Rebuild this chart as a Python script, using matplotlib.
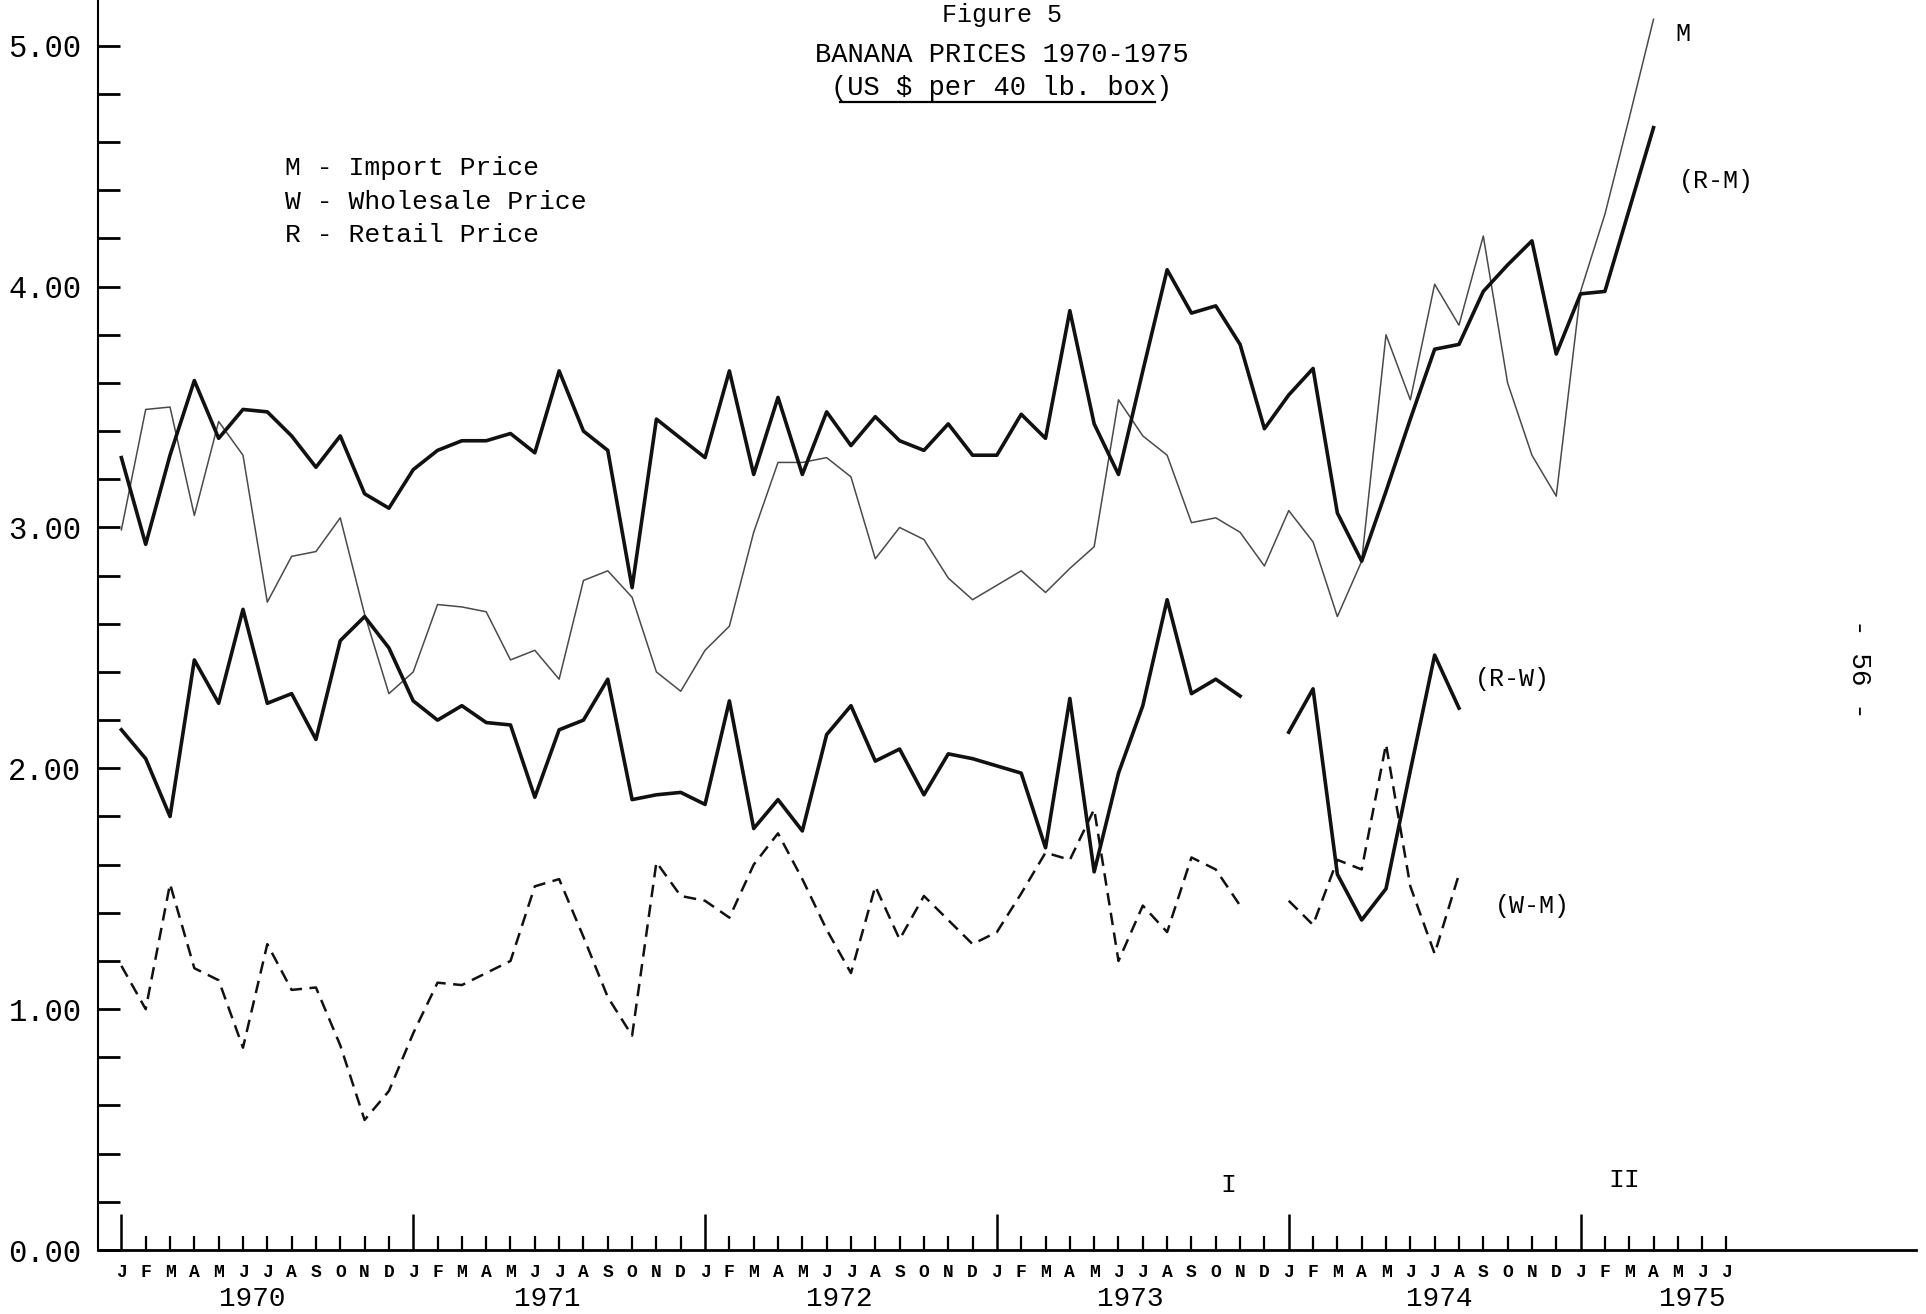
import numpy as np
import matplotlib.pyplot as plt

plt.rcParams["font.family"] = ["Liberation Mono", "DejaVu Sans Mono"]

# month index 0 = Jan 1970, one value per month
month_letters = ["J", "F", "M", "A", "M", "J", "J", "A", "S", "O", "N", "D"]
years = ["1970", "1971", "1972", "1973", "1974", "1975"]

# M - import price (thin line)
import_price = [
    2.99, 3.49, 3.50, 3.05, 3.44, 3.30, 2.69, 2.88, 2.90, 3.04, 2.64, 2.31,
    2.40, 2.68, 2.67, 2.65, 2.45, 2.49, 2.37, 2.78, 2.82, 2.71, 2.40, 2.32,
    2.49, 2.59, 2.98, 3.27, 3.27, 3.29, 3.21, 2.87, 3.00, 2.95, 2.79, 2.70,
    2.76, 2.82, 2.73, 2.83, 2.92, 3.53, 3.38, 3.30, 3.02, 3.04, 2.98, 2.84,
    3.07, 2.94, 2.63, 2.86, 3.80, 3.53, 4.01, 3.84, 4.21, 3.60, 3.30, 3.13,
    3.98, 4.30, 4.70, 5.11,
]

# (R-M) retail less import price (thick line)
retail_minus_import = [
    3.29, 2.93, 3.30, 3.61, 3.37, 3.49, 3.48, 3.38, 3.25, 3.38, 3.14, 3.08,
    3.24, 3.32, 3.36, 3.36, 3.39, 3.31, 3.65, 3.40, 3.32, 2.75, 3.45, 3.37,
    3.29, 3.65, 3.22, 3.54, 3.22, 3.48, 3.34, 3.46, 3.36, 3.32, 3.43, 3.30,
    3.30, 3.47, 3.37, 3.90, 3.43, 3.22, 3.65, 4.07, 3.89, 3.92, 3.76, 3.41,
    3.55, 3.66, 3.06, 2.86, 3.15, 3.45, 3.74, 3.76, 3.98, 4.09, 4.19, 3.72,
    3.97, 3.98, 4.32, 4.66,
]

# (R-W) retail less wholesale price (thick line), no value for Dec 1973
retail_minus_wholesale = [
    2.16, 2.04, 1.80, 2.45, 2.27, 2.66, 2.27, 2.31, 2.12, 2.53, 2.63, 2.50,
    2.28, 2.20, 2.26, 2.19, 2.18, 1.88, 2.16, 2.20, 2.37, 1.87, 1.89, 1.90,
    1.85, 2.28, 1.75, 1.87, 1.74, 2.14, 2.26, 2.03, 2.08, 1.89, 2.06, 2.04,
    2.01, 1.98, 1.67, 2.29, 1.57, 1.98, 2.26, 2.70, 2.31, 2.37, 2.30, None,
    2.15, 2.33, 1.56, 1.37, 1.50, 1.99, 2.47, 2.25,
]

# (W-M) wholesale less import price (dashed line), no value for Dec 1973
wholesale_minus_import = [
    1.18, 1.00, 1.52, 1.17, 1.12, 0.84, 1.27, 1.08, 1.09, 0.85, 0.54, 0.66,
    0.90, 1.11, 1.10, 1.15, 1.20, 1.51, 1.54, 1.30, 1.05, 0.89, 1.61, 1.47,
    1.45, 1.38, 1.60, 1.73, 1.54, 1.33, 1.15, 1.51, 1.29, 1.47, 1.37, 1.27,
    1.32, 1.48, 1.65, 1.62, 1.83, 1.20, 1.43, 1.32, 1.63, 1.58, 1.43, None,
    1.45, 1.35, 1.62, 1.58, 2.10, 1.51, 1.23, 1.56,
]

n_months = 67  # Jan 1970 .. Jul 1975 on the axis


def as_series(vals):
    y = np.array([np.nan if v is None else v for v in vals], dtype=float)
    return np.arange(len(y)), y


fig = plt.figure(figsize=(19.26, 13.14), dpi=100)
ax = fig.add_axes([0.0509, 0.0487, 0.944, 0.9513])

x, y = as_series(import_price)
ax.plot(x, y, color="#4a4a4a", lw=1.1)
x, y = as_series(retail_minus_import)
ax.plot(x, y, color="#111111", lw=2.6)
x, y = as_series(retail_minus_wholesale)
ax.plot(x, y, color="#111111", lw=2.6)
x, y = as_series(wholesale_minus_import)
ax.plot(x, y, color="#111111", lw=1.8, dashes=(5, 3))

ax.set_xlim(-0.96, 73.8)
ax.set_ylim(0, 5.19)

for s in ["top", "right"]:
    ax.spines[s].set_visible(False)
ax.spines["left"].set_linewidth(1.5)
ax.spines["bottom"].set_linewidth(2)

# y axis
yt = np.arange(0, 5.01, 1.0)
ax.set_yticks(yt, labels=["%.2f" % v for v in yt])
ax.set_yticks(np.arange(0.2, 5.01, 0.2), minor=True)
ax.tick_params(axis="y", which="both", direction="in", length=16, width=2,
               labelsize=22, pad=12)

# x axis: long tick at each January, short tick at other months
months = np.arange(n_months)
jan = months[months % 12 == 0]
other = months[months % 12 != 0]
ax.set_xticks(jan, labels=[month_letters[0]] * len(jan))
ax.set_xticks(other, labels=[month_letters[m % 12] for m in other], minor=True)
ax.tick_params(axis="x", which="major", direction="in", length=26, width=1.8,
               labelsize=13, pad=10)
ax.tick_params(axis="x", which="minor", direction="in", length=10, width=1.6,
               labelsize=13, pad=10)
for lab in ax.get_xticklabels(which="both"):
    lab.set_fontweight("bold")

year_pos = [5.4, 17.5, 29.5, 41.5, 54.2, 64.6]
for yr, xp in zip(years, year_pos):
    ax.text(xp, -0.039, yr, transform=ax.get_xaxis_transform(),
            ha="center", va="center", fontsize=20)

# titles
fig.text(0.52, 0.998, "Figure 5", ha="center", va="top", fontsize=18)
fig.text(0.52, 0.958, "BANANA PRICES 1970-1975", ha="center", va="center", fontsize=19.5)
fig.text(0.52, 0.9327, "(US $ per 40 lb. box)", ha="center", va="center", fontsize=19.5)
fig.add_artist(plt.Line2D([0.436, 0.5995], [0.9224, 0.9224], color="black", lw=1.6))

# key
key_lines = ["M - Import Price", "W - Wholesale Price", "R - Retail Price"]
for i, t in enumerate(key_lines):
    fig.text(0.148, 0.872 - 0.0255 * i, t, ha="left", va="center", fontsize=19)

# series labels
ax.text(64.2, 5.05, "M", ha="center", va="center", fontsize=18)
ax.text(65.6, 4.44, "(R-M)", ha="center", va="center", fontsize=18)
ax.text(57.2, 2.37, "(R-W)", ha="center", va="center", fontsize=18)
ax.text(58.0, 1.43, "(W-M)", ha="center", va="center", fontsize=18)

ax.text(45.5, 0.27, "I", ha="center", va="center", fontsize=19)
ax.text(61.8, 0.29, "II", ha="center", va="center", fontsize=19)

# page number
fig.text(0.965, 0.491, "- 56 -", rotation=270, ha="center", va="center", fontsize=20)

fig.savefig("out.png", dpi=100)
